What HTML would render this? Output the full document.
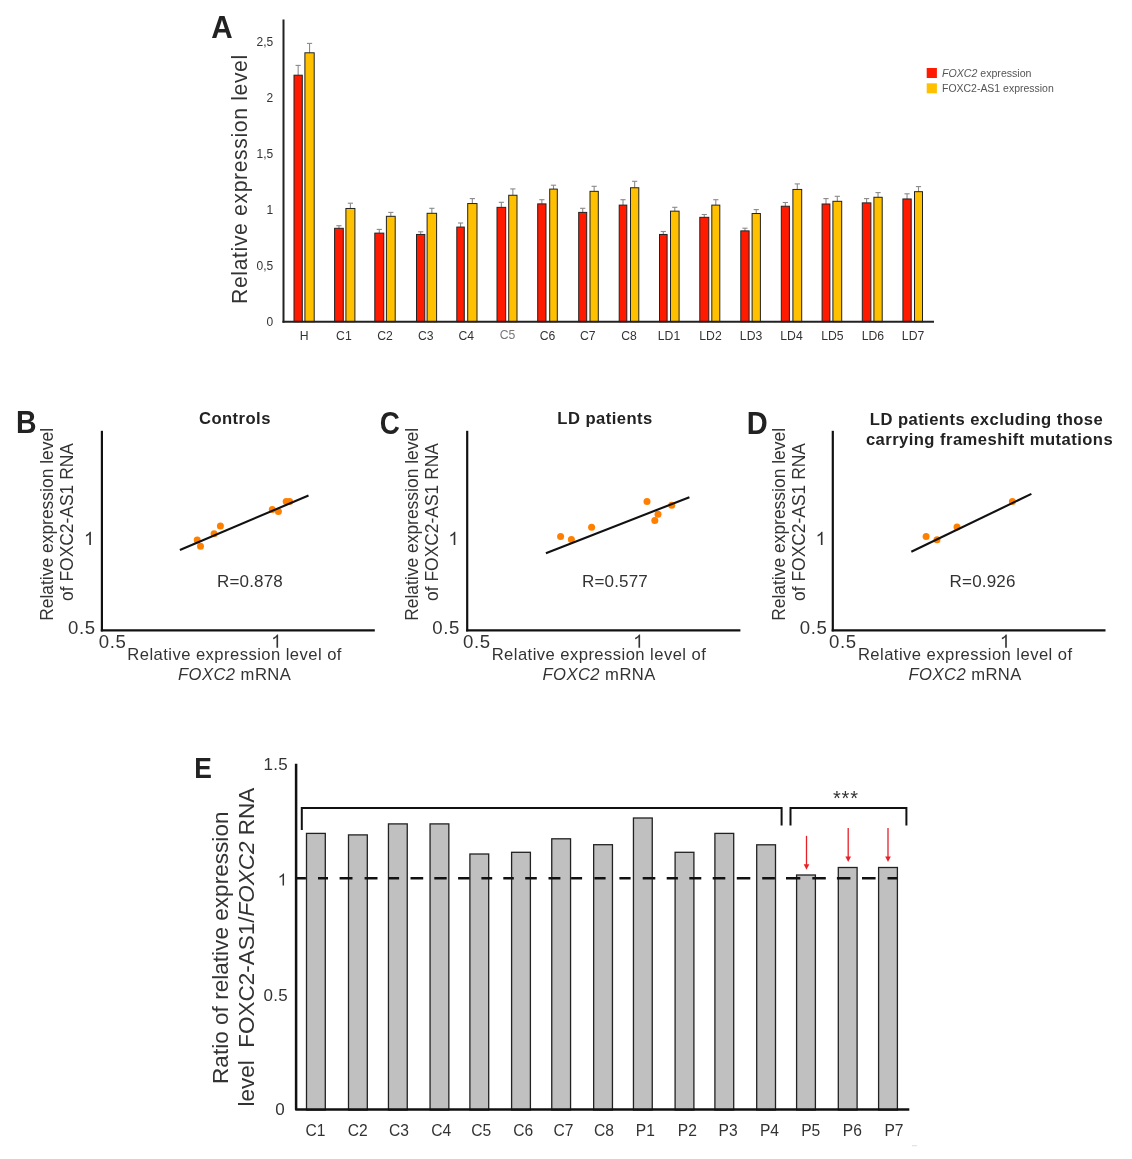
<!DOCTYPE html>
<html><head><meta charset="utf-8"><style>
html,body{margin:0;padding:0;background:#fff;}
svg{display:block;font-family:"Liberation Sans", sans-serif;filter:blur(0.4px);}
</style></head><body>
<svg width="1132" height="1159" viewBox="0 0 1132 1159">
<rect width="1132" height="1159" fill="#fff"/>
<text transform="translate(211.16,37.7) scale(0.9726,1)" font-size="30.5" font-weight="bold" fill="#222">A</text>
<text transform="translate(247.3,304.0) rotate(-90)" font-size="21.2" letter-spacing="0.62" fill="#333">Relative expression level</text>
<text x="273.3" y="326.0" font-size="12" text-anchor="end" font-weight="normal" font-style="normal" fill="#333" >0</text>
<text x="273.3" y="270.0" font-size="12" text-anchor="end" font-weight="normal" font-style="normal" fill="#333" >0,5</text>
<text x="273.3" y="214.0" font-size="12" text-anchor="end" font-weight="normal" font-style="normal" fill="#333" >1</text>
<text x="273.3" y="158.0" font-size="12" text-anchor="end" font-weight="normal" font-style="normal" fill="#333" >1,5</text>
<text x="273.3" y="102.0" font-size="12" text-anchor="end" font-weight="normal" font-style="normal" fill="#333" >2</text>
<text x="273.3" y="46.0" font-size="12" text-anchor="end" font-weight="normal" font-style="normal" fill="#333" >2,5</text>
<line x1="298.15" y1="75.30" x2="298.15" y2="65.40" stroke="#8a8a8a" stroke-width="1.1"/>
<line x1="295.55" y1="65.40" x2="300.75" y2="65.40" stroke="#8a8a8a" stroke-width="1.1"/>
<line x1="309.55" y1="52.90" x2="309.55" y2="43.40" stroke="#8a8a8a" stroke-width="1.1"/>
<line x1="306.95" y1="43.40" x2="312.15" y2="43.40" stroke="#8a8a8a" stroke-width="1.1"/>
<rect x="294.00" y="75.20" width="8.30" height="246.50" fill="#ff1a00" stroke="#222" stroke-width="1"/>
<rect x="304.90" y="52.80" width="9.30" height="268.90" fill="#ffc000" stroke="#222" stroke-width="1"/>
<text x="304.15" y="340.2" font-size="12.2" text-anchor="middle" font-weight="normal" font-style="normal" fill="#333" >H</text>
<line x1="338.95" y1="228.40" x2="338.95" y2="225.70" stroke="#8a8a8a" stroke-width="1.1"/>
<line x1="336.35" y1="225.70" x2="341.55" y2="225.70" stroke="#8a8a8a" stroke-width="1.1"/>
<line x1="350.40" y1="208.58" x2="350.40" y2="203.20" stroke="#8a8a8a" stroke-width="1.1"/>
<line x1="347.80" y1="203.20" x2="353.00" y2="203.20" stroke="#8a8a8a" stroke-width="1.1"/>
<rect x="334.60" y="228.30" width="8.70" height="93.40" fill="#ff1a00" stroke="#222" stroke-width="1"/>
<rect x="345.90" y="208.48" width="9.00" height="113.22" fill="#ffc000" stroke="#222" stroke-width="1"/>
<text x="343.9" y="340.2" font-size="12.2" text-anchor="middle" font-weight="normal" font-style="normal" fill="#333" >C1</text>
<line x1="379.30" y1="233.22" x2="379.30" y2="229.40" stroke="#8a8a8a" stroke-width="1.1"/>
<line x1="376.70" y1="229.40" x2="381.90" y2="229.40" stroke="#8a8a8a" stroke-width="1.1"/>
<line x1="390.80" y1="216.42" x2="390.80" y2="212.40" stroke="#8a8a8a" stroke-width="1.1"/>
<line x1="388.20" y1="212.40" x2="393.40" y2="212.40" stroke="#8a8a8a" stroke-width="1.1"/>
<rect x="374.80" y="233.12" width="9.00" height="88.58" fill="#ff1a00" stroke="#222" stroke-width="1"/>
<rect x="386.40" y="216.32" width="8.80" height="105.38" fill="#ffc000" stroke="#222" stroke-width="1"/>
<text x="385.05" y="340.2" font-size="12.2" text-anchor="middle" font-weight="normal" font-style="normal" fill="#333" >C2</text>
<line x1="420.65" y1="234.56" x2="420.65" y2="231.80" stroke="#8a8a8a" stroke-width="1.1"/>
<line x1="418.05" y1="231.80" x2="423.25" y2="231.80" stroke="#8a8a8a" stroke-width="1.1"/>
<line x1="431.85" y1="213.40" x2="431.85" y2="208.30" stroke="#8a8a8a" stroke-width="1.1"/>
<line x1="429.25" y1="208.30" x2="434.45" y2="208.30" stroke="#8a8a8a" stroke-width="1.1"/>
<rect x="416.50" y="234.46" width="8.30" height="87.24" fill="#ff1a00" stroke="#222" stroke-width="1"/>
<rect x="427.10" y="213.30" width="9.50" height="108.40" fill="#ffc000" stroke="#222" stroke-width="1"/>
<text x="425.8" y="340.2" font-size="12.2" text-anchor="middle" font-weight="normal" font-style="normal" fill="#333" >C3</text>
<line x1="460.55" y1="227.17" x2="460.55" y2="223.00" stroke="#8a8a8a" stroke-width="1.1"/>
<line x1="457.95" y1="223.00" x2="463.15" y2="223.00" stroke="#8a8a8a" stroke-width="1.1"/>
<line x1="472.35" y1="203.65" x2="472.35" y2="198.60" stroke="#8a8a8a" stroke-width="1.1"/>
<line x1="469.75" y1="198.60" x2="474.95" y2="198.60" stroke="#8a8a8a" stroke-width="1.1"/>
<rect x="456.80" y="227.07" width="7.50" height="94.63" fill="#ff1a00" stroke="#222" stroke-width="1"/>
<rect x="467.70" y="203.55" width="9.30" height="118.15" fill="#ffc000" stroke="#222" stroke-width="1"/>
<text x="466.25" y="340.2" font-size="12.2" text-anchor="middle" font-weight="normal" font-style="normal" fill="#333" >C4</text>
<line x1="501.35" y1="207.46" x2="501.35" y2="202.30" stroke="#8a8a8a" stroke-width="1.1"/>
<line x1="498.75" y1="202.30" x2="503.95" y2="202.30" stroke="#8a8a8a" stroke-width="1.1"/>
<line x1="512.85" y1="195.36" x2="512.85" y2="188.90" stroke="#8a8a8a" stroke-width="1.1"/>
<line x1="510.25" y1="188.90" x2="515.45" y2="188.90" stroke="#8a8a8a" stroke-width="1.1"/>
<rect x="497.00" y="207.36" width="8.70" height="114.34" fill="#ff1a00" stroke="#222" stroke-width="1"/>
<rect x="508.70" y="195.26" width="8.30" height="126.44" fill="#ffc000" stroke="#222" stroke-width="1"/>
<text x="507.55" y="338.8" font-size="12.2" text-anchor="middle" font-weight="normal" font-style="normal" fill="#777" >C5</text>
<line x1="541.85" y1="203.99" x2="541.85" y2="199.70" stroke="#8a8a8a" stroke-width="1.1"/>
<line x1="539.25" y1="199.70" x2="544.45" y2="199.70" stroke="#8a8a8a" stroke-width="1.1"/>
<line x1="553.50" y1="189.20" x2="553.50" y2="185.20" stroke="#8a8a8a" stroke-width="1.1"/>
<line x1="550.90" y1="185.20" x2="556.10" y2="185.20" stroke="#8a8a8a" stroke-width="1.1"/>
<rect x="537.70" y="203.89" width="8.30" height="117.81" fill="#ff1a00" stroke="#222" stroke-width="1"/>
<rect x="549.70" y="189.10" width="7.60" height="132.60" fill="#ffc000" stroke="#222" stroke-width="1"/>
<text x="547.5" y="340.2" font-size="12.2" text-anchor="middle" font-weight="normal" font-style="normal" fill="#333" >C6</text>
<line x1="582.70" y1="212.50" x2="582.70" y2="208.30" stroke="#8a8a8a" stroke-width="1.1"/>
<line x1="580.10" y1="208.30" x2="585.30" y2="208.30" stroke="#8a8a8a" stroke-width="1.1"/>
<line x1="594.15" y1="191.44" x2="594.15" y2="186.30" stroke="#8a8a8a" stroke-width="1.1"/>
<line x1="591.55" y1="186.30" x2="596.75" y2="186.30" stroke="#8a8a8a" stroke-width="1.1"/>
<rect x="578.70" y="212.40" width="8.00" height="109.30" fill="#ff1a00" stroke="#222" stroke-width="1"/>
<rect x="590.00" y="191.34" width="8.30" height="130.36" fill="#ffc000" stroke="#222" stroke-width="1"/>
<text x="587.85" y="340.2" font-size="12.2" text-anchor="middle" font-weight="normal" font-style="normal" fill="#333" >C7</text>
<line x1="623.00" y1="205.22" x2="623.00" y2="199.70" stroke="#8a8a8a" stroke-width="1.1"/>
<line x1="620.40" y1="199.70" x2="625.60" y2="199.70" stroke="#8a8a8a" stroke-width="1.1"/>
<line x1="634.65" y1="187.86" x2="634.65" y2="181.30" stroke="#8a8a8a" stroke-width="1.1"/>
<line x1="632.05" y1="181.30" x2="637.25" y2="181.30" stroke="#8a8a8a" stroke-width="1.1"/>
<rect x="619.20" y="205.12" width="7.60" height="116.58" fill="#ff1a00" stroke="#222" stroke-width="1"/>
<rect x="630.50" y="187.76" width="8.30" height="133.94" fill="#ffc000" stroke="#222" stroke-width="1"/>
<text x="629.05" y="340.2" font-size="12.2" text-anchor="middle" font-weight="normal" font-style="normal" fill="#333" >C8</text>
<line x1="663.30" y1="234.56" x2="663.30" y2="231.50" stroke="#8a8a8a" stroke-width="1.1"/>
<line x1="660.70" y1="231.50" x2="665.90" y2="231.50" stroke="#8a8a8a" stroke-width="1.1"/>
<line x1="674.80" y1="211.27" x2="674.80" y2="207.30" stroke="#8a8a8a" stroke-width="1.1"/>
<line x1="672.20" y1="207.30" x2="677.40" y2="207.30" stroke="#8a8a8a" stroke-width="1.1"/>
<rect x="659.50" y="234.46" width="7.60" height="87.24" fill="#ff1a00" stroke="#222" stroke-width="1"/>
<rect x="670.50" y="211.17" width="8.60" height="110.53" fill="#ffc000" stroke="#222" stroke-width="1"/>
<text x="669.0" y="340.2" font-size="12.2" text-anchor="middle" font-weight="normal" font-style="normal" fill="#333" >LD1</text>
<line x1="704.30" y1="217.43" x2="704.30" y2="214.50" stroke="#8a8a8a" stroke-width="1.1"/>
<line x1="701.70" y1="214.50" x2="706.90" y2="214.50" stroke="#8a8a8a" stroke-width="1.1"/>
<line x1="715.80" y1="205.22" x2="715.80" y2="199.70" stroke="#8a8a8a" stroke-width="1.1"/>
<line x1="713.20" y1="199.70" x2="718.40" y2="199.70" stroke="#8a8a8a" stroke-width="1.1"/>
<rect x="699.80" y="217.33" width="9.00" height="104.37" fill="#ff1a00" stroke="#222" stroke-width="1"/>
<rect x="711.80" y="205.12" width="8.00" height="116.58" fill="#ffc000" stroke="#222" stroke-width="1"/>
<text x="710.5" y="340.2" font-size="12.2" text-anchor="middle" font-weight="normal" font-style="normal" fill="#333" >LD2</text>
<line x1="744.95" y1="230.98" x2="744.95" y2="228.20" stroke="#8a8a8a" stroke-width="1.1"/>
<line x1="742.35" y1="228.20" x2="747.55" y2="228.20" stroke="#8a8a8a" stroke-width="1.1"/>
<line x1="756.25" y1="213.62" x2="756.25" y2="209.60" stroke="#8a8a8a" stroke-width="1.1"/>
<line x1="753.65" y1="209.60" x2="758.85" y2="209.60" stroke="#8a8a8a" stroke-width="1.1"/>
<rect x="740.80" y="230.88" width="8.30" height="90.82" fill="#ff1a00" stroke="#222" stroke-width="1"/>
<rect x="752.10" y="213.52" width="8.30" height="108.18" fill="#ffc000" stroke="#222" stroke-width="1"/>
<text x="751.05" y="340.2" font-size="12.2" text-anchor="middle" font-weight="normal" font-style="normal" fill="#333" >LD3</text>
<line x1="785.35" y1="206.34" x2="785.35" y2="202.50" stroke="#8a8a8a" stroke-width="1.1"/>
<line x1="782.75" y1="202.50" x2="787.95" y2="202.50" stroke="#8a8a8a" stroke-width="1.1"/>
<line x1="797.30" y1="189.54" x2="797.30" y2="183.90" stroke="#8a8a8a" stroke-width="1.1"/>
<line x1="794.70" y1="183.90" x2="799.90" y2="183.90" stroke="#8a8a8a" stroke-width="1.1"/>
<rect x="781.30" y="206.24" width="8.10" height="115.46" fill="#ff1a00" stroke="#222" stroke-width="1"/>
<rect x="792.90" y="189.44" width="8.80" height="132.26" fill="#ffc000" stroke="#222" stroke-width="1"/>
<text x="791.5" y="340.2" font-size="12.2" text-anchor="middle" font-weight="normal" font-style="normal" fill="#333" >LD4</text>
<line x1="826.00" y1="204.10" x2="826.00" y2="198.60" stroke="#8a8a8a" stroke-width="1.1"/>
<line x1="823.40" y1="198.60" x2="828.60" y2="198.60" stroke="#8a8a8a" stroke-width="1.1"/>
<line x1="837.30" y1="201.41" x2="837.30" y2="196.30" stroke="#8a8a8a" stroke-width="1.1"/>
<line x1="834.70" y1="196.30" x2="839.90" y2="196.30" stroke="#8a8a8a" stroke-width="1.1"/>
<rect x="822.10" y="204.00" width="7.80" height="117.70" fill="#ff1a00" stroke="#222" stroke-width="1"/>
<rect x="832.90" y="201.31" width="8.80" height="120.39" fill="#ffc000" stroke="#222" stroke-width="1"/>
<text x="832.35" y="340.2" font-size="12.2" text-anchor="middle" font-weight="normal" font-style="normal" fill="#333" >LD5</text>
<line x1="866.60" y1="202.98" x2="866.60" y2="198.60" stroke="#8a8a8a" stroke-width="1.1"/>
<line x1="864.00" y1="198.60" x2="869.20" y2="198.60" stroke="#8a8a8a" stroke-width="1.1"/>
<line x1="878.05" y1="197.38" x2="878.05" y2="192.60" stroke="#8a8a8a" stroke-width="1.1"/>
<line x1="875.45" y1="192.60" x2="880.65" y2="192.60" stroke="#8a8a8a" stroke-width="1.1"/>
<rect x="862.30" y="202.88" width="8.60" height="118.82" fill="#ff1a00" stroke="#222" stroke-width="1"/>
<rect x="873.90" y="197.28" width="8.30" height="124.42" fill="#ffc000" stroke="#222" stroke-width="1"/>
<text x="872.9" y="340.2" font-size="12.2" text-anchor="middle" font-weight="normal" font-style="normal" fill="#333" >LD6</text>
<line x1="907.05" y1="199.06" x2="907.05" y2="193.80" stroke="#8a8a8a" stroke-width="1.1"/>
<line x1="904.45" y1="193.80" x2="909.65" y2="193.80" stroke="#8a8a8a" stroke-width="1.1"/>
<line x1="918.50" y1="191.78" x2="918.50" y2="186.60" stroke="#8a8a8a" stroke-width="1.1"/>
<line x1="915.90" y1="186.60" x2="921.10" y2="186.60" stroke="#8a8a8a" stroke-width="1.1"/>
<rect x="902.90" y="198.96" width="8.30" height="122.74" fill="#ff1a00" stroke="#222" stroke-width="1"/>
<rect x="914.50" y="191.68" width="8.00" height="130.02" fill="#ffc000" stroke="#222" stroke-width="1"/>
<text x="913.05" y="340.2" font-size="12.2" text-anchor="middle" font-weight="normal" font-style="normal" fill="#333" >LD7</text>
<line x1="283.5" y1="19.5" x2="283.5" y2="322.7" stroke="#222" stroke-width="2"/>
<line x1="282.5" y1="321.7" x2="934" y2="321.7" stroke="#222" stroke-width="2"/>
<rect x="926.7" y="68" width="10.2" height="10" fill="#ff1a00"/>
<rect x="926.7" y="83.3" width="10.2" height="10" fill="#ffc000"/>
<text x="942" y="77" font-size="10.6" fill="#555"><tspan font-style="italic">FOXC2</tspan> expression</text>
<text x="942" y="92.3" font-size="10.47" fill="#555">FOXC2-AS1 expression</text>
<rect x="912" y="1145" width="5" height="1.3" fill="#e4e4e4"/>
<text transform="translate(15.89,433.1) scale(0.907,1)" font-size="31.4" font-weight="bold" fill="#222">B</text>
<text x="234.92" y="424.4" font-size="16.6" text-anchor="middle" font-weight="bold" font-style="normal" fill="#222" letter-spacing="0.45">Controls</text>
<circle cx="197.2" cy="539.9" r="3.5" fill="#ff8000"/>
<circle cx="200.5" cy="546.3" r="3.5" fill="#ff8000"/>
<circle cx="214.1" cy="533.7" r="3.5" fill="#ff8000"/>
<circle cx="220.4" cy="526" r="3.5" fill="#ff8000"/>
<circle cx="272.3" cy="509.4" r="3.5" fill="#ff8000"/>
<circle cx="278.4" cy="511.4" r="3.5" fill="#ff8000"/>
<circle cx="286.2" cy="501.6" r="3.5" fill="#ff8000"/>
<circle cx="289.6" cy="501.6" r="3.5" fill="#ff8000"/>
<line x1="179.9" y1="550" x2="308.5" y2="495.5" stroke="#111" stroke-width="2.1"/>
<line x1="101.9" y1="430.8" x2="101.9" y2="631.4" stroke="#111" stroke-width="2.2"/>
<line x1="100.80000000000001" y1="630.4" x2="374.8" y2="630.4" stroke="#111" stroke-width="2.2"/>
<text x="68.1" y="633.9" font-size="18.6" text-anchor="start" font-weight="normal" font-style="normal" fill="#333" letter-spacing="0.6">0.5</text>
<text x="98.7" y="647.8" font-size="18.6" text-anchor="start" font-weight="normal" font-style="normal" fill="#333" letter-spacing="0.6">0.5</text>
<path d="M0.352,0 L0.352,-0.716 L0.295,-0.716 C0.265,-0.655 0.195,-0.59 0.085,-0.54 L0.085,-0.455 C0.155,-0.48 0.225,-0.525 0.264,-0.565 L0.264,0 Z" transform="translate(84.37,545.00) scale(18.6)" fill="#333"/>
<path d="M0.352,0 L0.352,-0.716 L0.295,-0.716 C0.265,-0.655 0.195,-0.59 0.085,-0.54 L0.085,-0.455 C0.155,-0.48 0.225,-0.525 0.264,-0.565 L0.264,0 Z" transform="translate(271.57,647.70) scale(18.6)" fill="#333"/>
<text x="250.0" y="586.6" font-size="17" text-anchor="middle" font-weight="normal" font-style="normal" fill="#333" letter-spacing="0.18">R=0.878</text>
<text x="234.62" y="660.2" font-size="16.6" text-anchor="middle" font-weight="normal" font-style="normal" fill="#333" letter-spacing="0.45">Relative expression level of</text>
<text x="234.62" y="680.4" font-size="16.6" letter-spacing="0.45" text-anchor="middle" fill="#333"><tspan font-style="italic">FOXC2</tspan> mRNA</text>
<text transform="translate(53.1,524.4) rotate(-90)" font-size="17.45" text-anchor="middle" fill="#333">Relative expression level</text>
<text transform="translate(73.0,522.0) rotate(-90)" font-size="17.45" text-anchor="middle" fill="#333">of FOXC2-AS1 RNA</text>
<text transform="translate(379.86,433.5) scale(0.889,1)" font-size="31.3" font-weight="bold" fill="#222">C</text>
<text x="605.02" y="424.4" font-size="16.6" text-anchor="middle" font-weight="bold" font-style="normal" fill="#222" letter-spacing="0.45">LD patients</text>
<circle cx="560.6" cy="536.5" r="3.5" fill="#ff8000"/>
<circle cx="571.4" cy="539.4" r="3.5" fill="#ff8000"/>
<circle cx="591.6" cy="527.3" r="3.5" fill="#ff8000"/>
<circle cx="647" cy="501.6" r="3.5" fill="#ff8000"/>
<circle cx="654.8" cy="520.6" r="3.5" fill="#ff8000"/>
<circle cx="658" cy="514.2" r="3.5" fill="#ff8000"/>
<circle cx="671.7" cy="505.2" r="3.5" fill="#ff8000"/>
<line x1="545.9" y1="553.2" x2="689.4" y2="497.2" stroke="#111" stroke-width="2.1"/>
<line x1="467.2" y1="430.8" x2="467.2" y2="631.4" stroke="#111" stroke-width="2.2"/>
<line x1="466.09999999999997" y1="630.4" x2="740.4" y2="630.4" stroke="#111" stroke-width="2.2"/>
<text x="432.3" y="633.9" font-size="18.6" text-anchor="start" font-weight="normal" font-style="normal" fill="#333" letter-spacing="0.6">0.5</text>
<text x="463.0" y="647.8" font-size="18.6" text-anchor="start" font-weight="normal" font-style="normal" fill="#333" letter-spacing="0.6">0.5</text>
<path d="M0.352,0 L0.352,-0.716 L0.295,-0.716 C0.265,-0.655 0.195,-0.59 0.085,-0.54 L0.085,-0.455 C0.155,-0.48 0.225,-0.525 0.264,-0.565 L0.264,0 Z" transform="translate(448.77,545.00) scale(18.6)" fill="#333"/>
<path d="M0.352,0 L0.352,-0.716 L0.295,-0.716 C0.265,-0.655 0.195,-0.59 0.085,-0.54 L0.085,-0.455 C0.155,-0.48 0.225,-0.525 0.264,-0.565 L0.264,0 Z" transform="translate(633.57,647.70) scale(18.6)" fill="#333"/>
<text x="615.0" y="586.6" font-size="17" text-anchor="middle" font-weight="normal" font-style="normal" fill="#333" letter-spacing="0.18">R=0.577</text>
<text x="598.97" y="660.2" font-size="16.6" text-anchor="middle" font-weight="normal" font-style="normal" fill="#333" letter-spacing="0.45">Relative expression level of</text>
<text x="599.12" y="680.4" font-size="16.6" letter-spacing="0.45" text-anchor="middle" fill="#333"><tspan font-style="italic">FOXC2</tspan> mRNA</text>
<text transform="translate(417.7,524.4) rotate(-90)" font-size="17.45" text-anchor="middle" fill="#333">Relative expression level</text>
<text transform="translate(437.7,522.0) rotate(-90)" font-size="17.45" text-anchor="middle" fill="#333">of FOXC2-AS1 RNA</text>
<text transform="translate(746.76,433.6) scale(0.933,1)" font-size="31.1" font-weight="bold" fill="#222">D</text>
<text x="986.52" y="424.5" font-size="16.6" text-anchor="middle" font-weight="bold" font-style="normal" fill="#222" letter-spacing="0.45">LD patients excluding those</text>
<text x="989.52" y="444.5" font-size="16.6" text-anchor="middle" font-weight="bold" font-style="normal" fill="#222" letter-spacing="0.45">carrying frameshift mutations</text>
<circle cx="926.1" cy="536.5" r="3.5" fill="#ff8000"/>
<circle cx="937" cy="539.8" r="3.5" fill="#ff8000"/>
<circle cx="957" cy="527.1" r="3.5" fill="#ff8000"/>
<circle cx="1012.4" cy="501.6" r="3.5" fill="#ff8000"/>
<line x1="911.3" y1="551.7" x2="1031.4" y2="493.9" stroke="#111" stroke-width="2.1"/>
<line x1="832.8" y1="430.8" x2="832.8" y2="631.4" stroke="#111" stroke-width="2.2"/>
<line x1="831.6999999999999" y1="630.4" x2="1105.5" y2="630.4" stroke="#111" stroke-width="2.2"/>
<text x="799.7" y="633.9" font-size="18.6" text-anchor="start" font-weight="normal" font-style="normal" fill="#333" letter-spacing="0.6">0.5</text>
<text x="829.1" y="647.8" font-size="18.6" text-anchor="start" font-weight="normal" font-style="normal" fill="#333" letter-spacing="0.6">0.5</text>
<path d="M0.352,0 L0.352,-0.716 L0.295,-0.716 C0.265,-0.655 0.195,-0.59 0.085,-0.54 L0.085,-0.455 C0.155,-0.48 0.225,-0.525 0.264,-0.565 L0.264,0 Z" transform="translate(815.97,545.00) scale(18.6)" fill="#333"/>
<path d="M0.352,0 L0.352,-0.716 L0.295,-0.716 C0.265,-0.655 0.195,-0.59 0.085,-0.54 L0.085,-0.455 C0.155,-0.48 0.225,-0.525 0.264,-0.565 L0.264,0 Z" transform="translate(1000.27,647.70) scale(18.6)" fill="#333"/>
<text x="982.6" y="586.6" font-size="17" text-anchor="middle" font-weight="normal" font-style="normal" fill="#333" letter-spacing="0.18">R=0.926</text>
<text x="965.22" y="660.2" font-size="16.6" text-anchor="middle" font-weight="normal" font-style="normal" fill="#333" letter-spacing="0.45">Relative expression level of</text>
<text x="965.17" y="680.4" font-size="16.6" letter-spacing="0.45" text-anchor="middle" fill="#333"><tspan font-style="italic">FOXC2</tspan> mRNA</text>
<text transform="translate(784.7,524.4) rotate(-90)" font-size="17.45" text-anchor="middle" fill="#333">Relative expression level</text>
<text transform="translate(804.7,522.0) rotate(-90)" font-size="17.45" text-anchor="middle" fill="#333">of FOXC2-AS1 RNA</text>
<text transform="translate(194.23,777.7) scale(0.886,1)" font-size="29.8" font-weight="bold" fill="#222">E</text>
<text transform="translate(228.0,1084) rotate(-90)" font-size="22.6" fill="#333">Ratio of relative expression</text>
<text transform="translate(254.3,1106.5) rotate(-90)" font-size="22.5" fill="#333" xml:space="preserve">level  FOXC2-AS1/<tspan font-style="italic">FOXC2</tspan> RNA</text>
<text x="288" y="1000.75" font-size="17" text-anchor="end" font-weight="normal" font-style="normal" fill="#333" letter-spacing="0.3">0.5</text>
<text x="288" y="770.25" font-size="17" text-anchor="end" font-weight="normal" font-style="normal" fill="#333" letter-spacing="0.3">1.5</text>
<text x="284.6" y="1115.2" font-size="17" text-anchor="end" font-weight="normal" font-style="normal" fill="#333" >0</text>
<path d="M0.352,0 L0.352,-0.716 L0.295,-0.716 C0.265,-0.655 0.195,-0.59 0.085,-0.54 L0.085,-0.455 C0.155,-0.48 0.225,-0.525 0.264,-0.565 L0.264,0 Z" transform="translate(278.06,885.60) scale(17)" fill="#333"/>
<rect x="306.50" y="833.40" width="18.8" height="276.60" fill="#c0c0c0" stroke="#222" stroke-width="1.3"/>
<text x="315.5" y="1136.0" font-size="15.6" text-anchor="middle" font-weight="normal" font-style="normal" fill="#333" >C1</text>
<rect x="348.50" y="834.90" width="18.8" height="275.10" fill="#c0c0c0" stroke="#222" stroke-width="1.3"/>
<text x="357.8" y="1136.0" font-size="15.6" text-anchor="middle" font-weight="normal" font-style="normal" fill="#333" >C2</text>
<rect x="388.45" y="823.90" width="18.8" height="286.10" fill="#c0c0c0" stroke="#222" stroke-width="1.3"/>
<text x="399.0" y="1136.0" font-size="15.6" text-anchor="middle" font-weight="normal" font-style="normal" fill="#333" >C3</text>
<rect x="430.05" y="823.90" width="18.8" height="286.10" fill="#c0c0c0" stroke="#222" stroke-width="1.3"/>
<text x="441.1" y="1136.0" font-size="15.6" text-anchor="middle" font-weight="normal" font-style="normal" fill="#333" >C4</text>
<rect x="469.90" y="854.00" width="18.8" height="256.00" fill="#c0c0c0" stroke="#222" stroke-width="1.3"/>
<text x="481.2" y="1136.0" font-size="15.6" text-anchor="middle" font-weight="normal" font-style="normal" fill="#333" >C5</text>
<rect x="511.60" y="852.30" width="18.8" height="257.70" fill="#c0c0c0" stroke="#222" stroke-width="1.3"/>
<text x="523.3" y="1136.0" font-size="15.6" text-anchor="middle" font-weight="normal" font-style="normal" fill="#333" >C6</text>
<rect x="551.75" y="838.80" width="18.8" height="271.20" fill="#c0c0c0" stroke="#222" stroke-width="1.3"/>
<text x="563.4" y="1136.0" font-size="15.6" text-anchor="middle" font-weight="normal" font-style="normal" fill="#333" >C7</text>
<rect x="593.65" y="844.70" width="18.8" height="265.30" fill="#c0c0c0" stroke="#222" stroke-width="1.3"/>
<text x="603.9" y="1136.0" font-size="15.6" text-anchor="middle" font-weight="normal" font-style="normal" fill="#333" >C8</text>
<rect x="633.45" y="818.00" width="18.8" height="292.00" fill="#c0c0c0" stroke="#222" stroke-width="1.3"/>
<text x="645.3" y="1136.0" font-size="15.6" text-anchor="middle" font-weight="normal" font-style="normal" fill="#333" >P1</text>
<rect x="675.10" y="852.30" width="18.8" height="257.70" fill="#c0c0c0" stroke="#222" stroke-width="1.3"/>
<text x="687.35" y="1136.0" font-size="15.6" text-anchor="middle" font-weight="normal" font-style="normal" fill="#333" >P2</text>
<rect x="714.90" y="833.40" width="18.8" height="276.60" fill="#c0c0c0" stroke="#222" stroke-width="1.3"/>
<text x="728.1" y="1136.0" font-size="15.6" text-anchor="middle" font-weight="normal" font-style="normal" fill="#333" >P3</text>
<rect x="756.70" y="844.80" width="18.8" height="265.20" fill="#c0c0c0" stroke="#222" stroke-width="1.3"/>
<text x="769.45" y="1136.0" font-size="15.6" text-anchor="middle" font-weight="normal" font-style="normal" fill="#333" >P4</text>
<rect x="796.60" y="875.00" width="18.8" height="235.00" fill="#c0c0c0" stroke="#222" stroke-width="1.3"/>
<text x="810.75" y="1136.0" font-size="15.6" text-anchor="middle" font-weight="normal" font-style="normal" fill="#333" >P5</text>
<rect x="838.30" y="867.50" width="18.8" height="242.50" fill="#c0c0c0" stroke="#222" stroke-width="1.3"/>
<text x="852.3" y="1136.0" font-size="15.6" text-anchor="middle" font-weight="normal" font-style="normal" fill="#333" >P6</text>
<rect x="878.60" y="867.50" width="18.8" height="242.50" fill="#c0c0c0" stroke="#222" stroke-width="1.3"/>
<text x="893.95" y="1136.0" font-size="15.6" text-anchor="middle" font-weight="normal" font-style="normal" fill="#333" >P7</text>
<path d="M296.8,878.2H305.9 M318.0,878.2H328.0 M339.6,878.2H352.5 M364.6,878.2H377.5 M388.6,878.2H399.1 M410.5,878.2H423.2 M434.3,878.2H446.7 M458.1,878.2H469.6 M481.4,878.2H492.2 M503.3,878.2H513.8 M525.2,878.2H536.8 M548.5,878.2H560.4 M571.1,878.2H582.1 M594.4,878.2H605.6 M619.4,878.2H630.6 M642.7,878.2H655.3 M666.7,878.2H677.9 M689.3,878.2H701.3 M712.7,878.2H725.3 M736.8,878.2H750.3 M762.2,878.2H774.9 M786.0,878.2H800.3 M812.3,878.2H825.8 M836.9,878.2H850.4 M862.0,878.2H875.6 M887.5,878.2H897.1" stroke="#111" stroke-width="2.6" fill="none"/>
<polyline points="296.1,763.8 296.1,1109.6 909.3,1109.6" fill="none" stroke="#111" stroke-width="2.5" stroke-linejoin="round"/>
<polyline points="301.8,830 301.8,808.1 781.6,808.1 781.6,825.5" fill="none" stroke="#111" stroke-width="2"/>
<polyline points="790.5,825.5 790.5,808.1 906.4,808.1 906.4,825.5" fill="none" stroke="#111" stroke-width="2"/>
<text x="832.9" y="805.2" font-size="20" text-anchor="start" font-weight="normal" font-style="normal" fill="#333" letter-spacing="0.95">***</text>
<line x1="806.5" y1="835.8" x2="806.5" y2="865.8" stroke="#e8202a" stroke-width="1.3"/>
<polygon points="803.7,864.3 809.3,864.3 806.5,869.8" fill="#e8202a"/>
<line x1="848.2" y1="828" x2="848.2" y2="858" stroke="#e8202a" stroke-width="1.3"/>
<polygon points="845.4000000000001,856.5 851.0,856.5 848.2,862" fill="#e8202a"/>
<line x1="888" y1="828" x2="888" y2="858" stroke="#e8202a" stroke-width="1.3"/>
<polygon points="885.2,856.5 890.8,856.5 888,862" fill="#e8202a"/>
</svg>
</body></html>
